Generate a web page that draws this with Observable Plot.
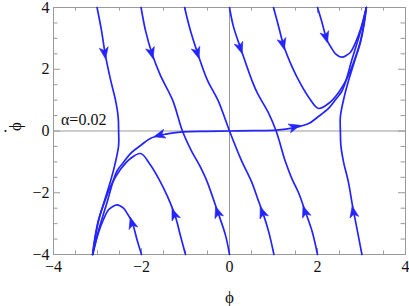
<!DOCTYPE html>
<html><head><meta charset="utf-8">
<script src="https://cdn.jsdelivr.net/npm/d3@7"></script>
<script src="https://cdn.jsdelivr.net/npm/@observablehq/plot@0.6"></script>
<style>
html,body{margin:0;padding:0;background:#fff;}
</style>
</head><body><div id="chart"></div>
<script>
// ---- tick values ----
const xTickLabels = [-4, -2, 0, 2, 4];
const yTickLabels = [-4, -2, 0, 2, 4];
const majorTicks = [-2, 0, 2];
const minorTicks = [-3.5, -3, -2.5, -1.5, -1, -0.5, 0.5, 1, 1.5, 2.5, 3, 3.5];
const annotation = ["α=0.02"];
const xLabel = ["ϕ"];
const yLabel = ["ϕ"];       // drawn rotated, with its time-derivative dot
const yLabelDot = ["dot"];

// ---- streamlines as [φ, φ̇] ----
const streamLeftEdge = [[-3.01,4],[-2.91,3.26],[-2.82,2.45],[-2.70,1.64],[-2.59,0.99],[-2.53,0.45],[-2.52,0],[-2.52,-0.47],[-2.61,-1.12],[-2.70,-1.60],[-2.84,-2.25],[-2.98,-2.90],[-3.07,-3.55],[-3.11,-4]];
const streamRightEdge = [[3.01,-4],[2.91,-3.26],[2.80,-2.45],[2.70,-1.64],[2.59,-0.99],[2.53,-0.45],[2.52,0],[2.52,0.47],[2.61,1.12],[2.70,1.60],[2.84,2.25],[2.98,2.90],[3.07,3.55],[3.11,4]];
const streamCentral = [[-3.11,-4],[-3.02,-3.45],[-2.91,-2.90],[-2.77,-2.25],[-2.64,-1.60],[-2.55,-1.28],[-2.43,-1.05],[-2.25,-0.73],[-2.02,-0.47],[-1.80,-0.24],[-1.45,-0.10],[-1.07,-0.03],[-0.55,-0.01],[0,0],[0.55,0.01],[1.07,0.03],[1.45,0.10],[1.80,0.24],[2.02,0.47],[2.25,0.73],[2.43,1.05],[2.55,1.28],[2.64,1.60],[2.77,2.25],[2.91,2.90],[3.02,3.45],[3.11,4]];
const streamArcUpper = [[1.0,4],[1.11,3.42],[1.23,2.77],[1.41,2.12],[1.61,1.54],[1.82,1.05],[2.02,0.73],[2.25,0.89],[2.48,1.25],[2.68,1.73],[2.86,2.38],[2.98,2.93],[3.11,4]];
const streamArcLower = [[-1.0,-4],[-1.11,-3.42],[-1.23,-2.77],[-1.41,-2.12],[-1.61,-1.54],[-1.82,-1.05],[-2.02,-0.73],[-2.25,-0.89],[-2.48,-1.25],[-2.68,-1.73],[-2.86,-2.38],[-2.98,-2.93],[-3.11,-4]];
const streamSmallUpper = [[2.0,4],[2.09,3.58],[2.22,2.93],[2.33,2.66],[2.41,2.50],[2.56,2.39],[2.66,2.45],[2.75,2.55],[2.86,2.85],[2.98,3.30],[3.11,4]];
const streamSmallLower = [[-2.0,-4],[-2.09,-3.58],[-2.22,-2.93],[-2.33,-2.66],[-2.41,-2.50],[-2.56,-2.39],[-2.66,-2.45],[-2.75,-2.55],[-2.86,-2.85],[-2.98,-3.30],[-3.11,-4]];
const streamSteepA = [[-2.01,4],[-1.91,3.26],[-1.76,2.5],[-1.57,1.80],[-1.29,0.99],[-1.07,0],[-0.88,-0.6],[-0.66,-1.17],[-0.52,-1.60],[-0.27,-2.61],[-0.09,-3.38],[0,-4]];
const streamSteepB = [[-1.02,4],[-0.89,3.26],[-0.72,2.5],[-0.5,1.64],[-0.26,0.99],[0,0],[0.27,-0.95],[0.5,-1.64],[0.67,-2.31],[0.77,-2.7],[0.89,-3.26],[1.01,-4]];
const streamSteepC = [[0,4],[0.09,3.38],[0.27,2.61],[0.52,1.60],[0.64,1.21],[0.88,0.6],[1.06,0],[1.27,-0.99],[1.42,-1.55],[1.57,-2.0],[1.70,-2.52],[1.88,-3.26],[2.0,-4]];

// ---- arrowhead centres ----
const arrowsDownward = [[-2.79,2.51],[-1.74,2.51],[-0.71,2.51],[0.27,2.67],[1.24,2.8],[2.24,3.03]];
const arrowsUpward = [[-2.24,-3.0],[-1.24,-2.7],[-0.27,-2.64],[0.76,-2.64],[1.72,-2.62],[2.78,-2.64]];
const arrowsLeftward = [[-1.58,-0.18]];
const arrowsRightward = [[1.50,0.10]];

const streams = [streamLeftEdge, streamRightEdge, streamCentral, streamArcUpper, streamArcLower,
  streamSmallUpper, streamSmallLower, streamSteepA, streamSteepB, streamSteepC];
const rows = streams.flatMap((s, k) => s.map(([x, y]) => ({k, x, y})));
const arrows = [
  ...arrowsDownward.map(([x, y]) => ({x, y, dir: "down"})),
  ...arrowsUpward.map(([x, y]) => ({x, y, dir: "up"})),
  ...arrowsLeftward.map(([x, y]) => ({x, y, dir: "left"})),
  ...arrowsRightward.map(([x, y]) => ({x, y, dir: "right"}))
];

const BLUE = "#2424ff";
const GRAY = "#9a9a9a";
const FRAME_H = 247, FRAME_W = 351;

function arrowheads(index, scales) {
  const g = d3.create("svg:g");
  const sx = scales.x, sy = scales.y;
  const screenStreams = streams.map(s => s.map(([x, y]) => [sx(x), sy(y)]));
  for (const a of arrows) {
    const px = sx(a.x), py = sy(a.y);
    let best = null;
    for (const s of screenStreams) {
      for (let i = 0; i < s.length - 1; i++) {
        const [x0, y0] = s[i], [x1, y1] = s[i + 1];
        const dx = x1 - x0, dy = y1 - y0, L2 = dx * dx + dy * dy;
        let t = ((px - x0) * dx + (py - y0) * dy) / L2;
        t = Math.max(0, Math.min(1, t));
        const cx = x0 + t * dx, cy = y0 + t * dy;
        const d = (cx - px) ** 2 + (cy - py) ** 2;
        if (!best || d < best.d) best = {d, cx, cy, dx, dy};
      }
    }
    let {cx, cy, dx, dy} = best;
    const n = Math.hypot(dx, dy); dx /= n; dy /= n;
    const flip = (a.dir === "down" && dy < 0) || (a.dir === "up" && dy > 0) ||
                 (a.dir === "left" && dx > 0) || (a.dir === "right" && dx < 0);
    if (flip) { dx = -dx; dy = -dy; }
    const L = 11.5, W = 4.5, N = 3;
    const nx = -dy, ny = dx;
    const tip = [cx + dx * L / 2, cy + dy * L / 2];
    const b1 = [cx - dx * L / 2 + nx * W, cy - dy * L / 2 + ny * W];
    const b2 = [cx - dx * L / 2 - nx * W, cy - dy * L / 2 - ny * W];
    const notch = [cx - dx * (L / 2 - N), cy - dy * (L / 2 - N)];
    g.append("path")
      .attr("d", `M${tip}L${b1}L${notch}L${b2}Z`)
      .attr("fill", BLUE).attr("stroke", BLUE).attr("stroke-width", 0.6)
      .attr("stroke-linejoin", "miter");
  }
  return g.node();
}

const chart = Plot.plot({
  width: 409,
  height: 306,
  marginLeft: 53,
  marginRight: 4,
  marginTop: 7,
  marginBottom: 52,
  style: {fontFamily: "'Liberation Serif', 'Times New Roman', serif", fontSize: "16px", background: "white", color: "#111"},
  x: {domain: [-4, 4], ticks: xTickLabels, tickSize: 0, tickPadding: 6, label: null},
  y: {domain: [-4, 4], ticks: yTickLabels, tickSize: 0, tickPadding: 4, label: null},
  marks: [
    Plot.ruleX([0], {stroke: GRAY, strokeWidth: 1}),
    Plot.ruleY([0], {stroke: GRAY, strokeWidth: 1}),
    // inward frame ticks: bottom, top, left, right
    Plot.ruleX(minorTicks, {stroke: GRAY, insetTop: FRAME_H - 3.5}),
    Plot.ruleX(minorTicks, {stroke: GRAY, insetBottom: FRAME_H - 3.5}),
    Plot.ruleX(majorTicks, {stroke: GRAY, insetTop: FRAME_H - 6}),
    Plot.ruleX(majorTicks, {stroke: GRAY, insetBottom: FRAME_H - 6}),
    Plot.ruleY(minorTicks, {stroke: GRAY, insetRight: FRAME_W - 3.5}),
    Plot.ruleY(minorTicks, {stroke: GRAY, insetLeft: FRAME_W - 3.5}),
    Plot.ruleY(majorTicks, {stroke: GRAY, insetRight: FRAME_W - 6}),
    Plot.ruleY(majorTicks, {stroke: GRAY, insetLeft: FRAME_W - 6}),
    Plot.frame({stroke: GRAY, strokeWidth: 1}),
    Plot.line(rows, {x: "x", y: "y", z: "k", stroke: BLUE, strokeWidth: 1.7, curve: "catmull-rom"}),
    arrowheads,
    Plot.text(annotation, {x: -3.83, y: 0.2, text: d => d, textAnchor: "start", lineAnchor: "bottom", fontSize: 16, fill: "#111"}),
    Plot.text(xLabel, {frameAnchor: "bottom", dy: 43, text: d => d, lineAnchor: "middle", fontSize: 17, fill: "#111"}),
    Plot.text(yLabel, {frameAnchor: "left", dx: -38, text: d => d, rotate: -90, lineAnchor: "middle", fontSize: 17, fill: "#111"}),
    Plot.dot(yLabelDot, {frameAnchor: "left", dx: -48, r: 1.1, fill: "#111", stroke: "none"})
  ]
});
document.getElementById("chart").appendChild(chart);
</script>
</body></html>
